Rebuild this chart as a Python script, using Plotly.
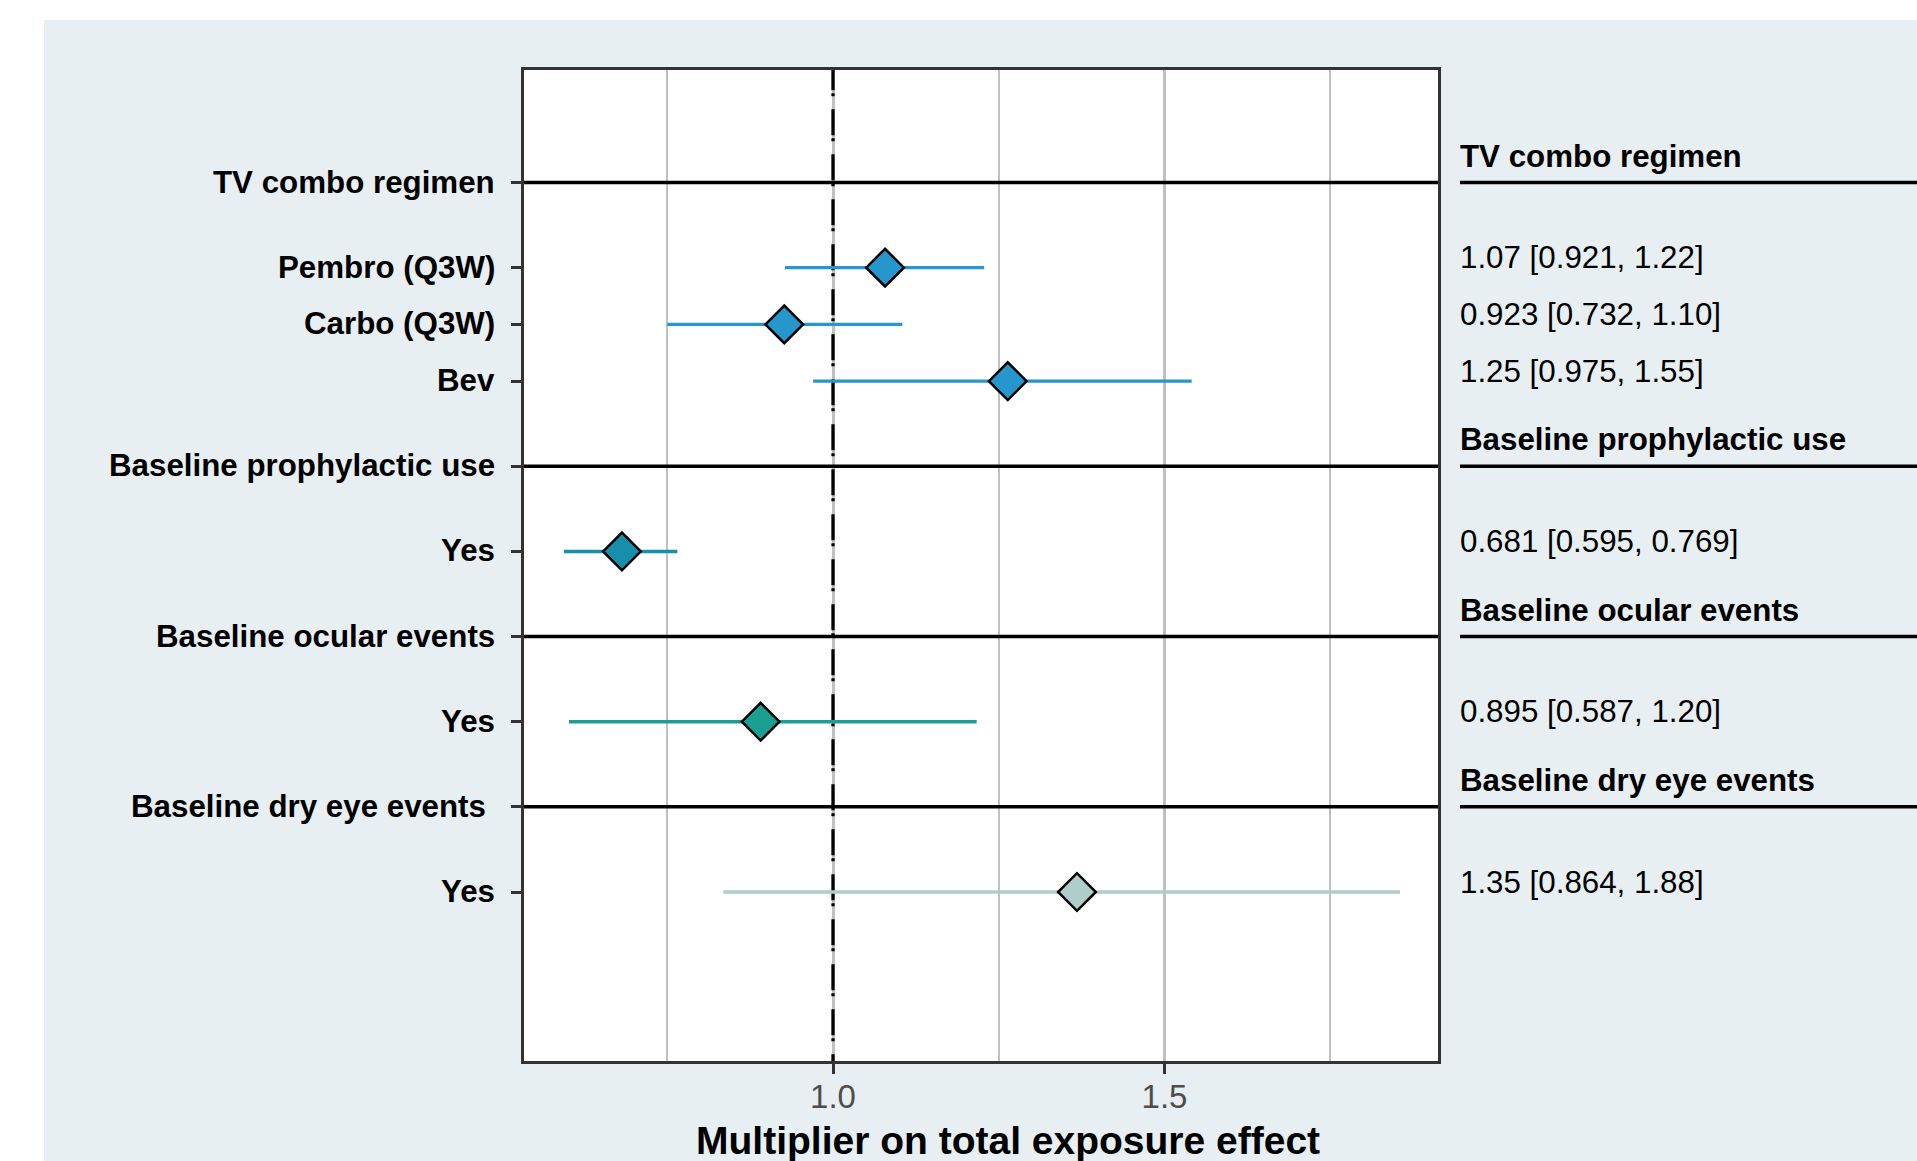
import plotly.graph_objects as go

W, H = 1917, 1161

# ---------------- data ----------------
row_labels = ["TV combo regimen", "Pembro (Q3W)", "Carbo (Q3W)", "Bev",
              "Baseline prophylactic use", "Yes",
              "Baseline ocular events", "Yes",
              "Baseline dry eye events\u00a0", "Yes"]
row_pos = [0, 1.5, 2.5, 3.5, 5, 6.5, 8, 9.5, 11, 12.5]

header_labels = ["TV combo regimen", "Baseline prophylactic use",
                 "Baseline ocular events", "Baseline dry eye events"]
header_pos = [0, 5, 8, 11]

item_pos = [1.5, 2.5, 3.5, 6.5, 9.5, 12.5]
estimate = [1.0785, 0.9265, 1.2636, 0.6817, 0.8909, 1.368]
lower = [0.9276, 0.750, 0.970, 0.5943, 0.6018, 0.8346]
upper = [1.228, 1.1046, 1.541, 0.7652, 1.2167, 1.8552]
item_colors = ["#2597CC", "#2597CC", "#2597CC", "#168FAA", "#1A9F90", "#AFCDCB"]
value_labels = ["1.07 [0.921, 1.22]", "0.923 [0.732, 1.10]", "1.25 [0.975, 1.55]",
                "0.681 [0.595, 0.769]", "0.895 [0.587, 1.20]", "1.35 [0.864, 1.88]"]

x_tickvals = [1.0, 1.5]
x_ticktext = ["1.0", "1.5"]
x_minor = [0.75, 1.25, 1.75]
ref_value = 1.0
x_title = "Multiplier on total exposure effect"

# ---------------- geometry ----------------
ML, MR, MT, MB = 524, 479, 70, 100
PW = W - ML - MR
PH = H - MT - MB


def px_x(px):
    return (px - ML) / PW


def px_y(py):
    return (H - MB - py) / PH


FONT = "Liberation Sans, Arial, Helvetica, sans-serif"
BG = "#E8EFF2"

x0 = 1 - (833 - ML) / 663.0
x1 = 1 + (W - MR - 833) / 663.0
y_top = (MT - 182.5) / 56.76
y_bot = (H - MB - 182.5) / 56.76

fig = go.Figure()

# header separator lines inside the panel
for p in header_pos:
    fig.add_trace(go.Scatter(x=[x0 - 0.1, x1 + 0.1], y=[p, p], mode="lines",
                             line=dict(color="black", width=3.5),
                             showlegend=False, hoverinfo="skip"))
# reference line at 1
fig.add_trace(go.Scatter(x=[ref_value, ref_value], y=[y_top - 5.7 / 56.76, y_bot], mode="lines",
                         line=dict(color="black", width=3.3, dash="26px,3px,3px,13px"),
                         showlegend=False, hoverinfo="skip"))

for p, e, lo, hi, c in zip(item_pos, estimate, lower, upper, item_colors):
    fig.add_trace(go.Scatter(
        x=[e], y=[p], mode="markers",
        marker=dict(symbol="diamond", size=29, color=c,
                    line=dict(color="black", width=2.5)),
        error_x=dict(type="data", symmetric=False, array=[hi - e],
                     arrayminus=[e - lo], color=c, thickness=3.4, width=0),
        showlegend=False, hoverinfo="skip"))

shapes = []
# white strips outside the tinted panel
shapes.append(dict(type="rect", xref="paper", yref="paper", x0=-0.7, x1=1.7,
                   y0=px_y(20), y1=1.3, fillcolor="white", line=dict(width=0),
                   layer="below"))
shapes.append(dict(type="rect", xref="paper", yref="paper", x0=-0.7, x1=px_x(44),
                   y0=-0.3, y1=1.3, fillcolor="white", line=dict(width=0),
                   layer="below"))
# header lines on the right
for p in header_pos:
    shapes.append(dict(type="line", xref="paper", yref="y", x0=px_x(1460), x1=1.7,
                       y0=p, y1=p, line=dict(color="black", width=3.5)))

annotations = []
for lab, p in zip(row_labels, row_pos):
    annotations.append(dict(text=lab, xref="paper", yref="y", x=px_x(496.5), y=p,
                            xanchor="right", yanchor="middle", yshift=0.5,
                            showarrow=False,
                            font=dict(family=FONT, size=31.3, color="black", weight="bold")))
for lab, p in zip(header_labels, header_pos):
    annotations.append(dict(text=lab, xref="paper", yref="y", x=px_x(1458), y=p,
                            xanchor="left", yanchor="middle", yshift=26.5,
                            showarrow=False,
                            font=dict(family=FONT, size=31.3, color="black", weight="bold")))
for lab, p in zip(value_labels, item_pos):
    annotations.append(dict(text=lab, xref="paper", yref="y", x=px_x(1458), y=p,
                            xanchor="left", yanchor="middle", yshift=10,
                            showarrow=False,
                            font=dict(family=FONT, size=31.3, color="black")))
annotations.append(dict(text=x_title, xref="paper", yref="paper", x=px_x(1008),
                        y=px_y(1140), xanchor="center", yanchor="middle",
                        showarrow=False,
                        font=dict(family=FONT, size=39, color="black", weight="bold")))

fig.update_layout(
    width=W, height=H,
    margin=dict(l=ML, r=MR, t=MT, b=MB, pad=0, autoexpand=False),
    paper_bgcolor=BG, plot_bgcolor="white",
    font=dict(family=FONT),
    shapes=shapes, annotations=annotations,
    xaxis=dict(range=[x0, x1], tickmode="array", tickvals=x_tickvals, ticktext=x_ticktext,
               showgrid=True, gridcolor="#C0C0C0", gridwidth=2.8,
               minor=dict(tickmode="array", tickvals=x_minor, showgrid=True,
                          gridcolor="#C0C0C0", gridwidth=1.5, ticks=""),
               zeroline=False, showline=True, mirror=True, linecolor="#333333", linewidth=3,
               ticks="outside", ticklen=10, tickwidth=3, tickcolor="#333333",
               ticklabelstandoff=-6,
               tickfont=dict(family=FONT, size=33, color="#4D4D4D"),
               automargin=False, fixedrange=True),
    yaxis=dict(range=[y_bot, y_top], tickmode="array", tickvals=row_pos,
               showticklabels=False, showgrid=False, zeroline=False,
               showline=True, mirror=True, linecolor="#333333", linewidth=3,
               ticks="outside", ticklen=10, tickwidth=3, tickcolor="#333333",
               automargin=False, fixedrange=True),
)

fig.write_html("out.html", config={"displayModeBar": False},
               post_script="document.body.style.margin='0';document.body.style.overflow='hidden';"
                           "document.documentElement.style.overflow='hidden';")
